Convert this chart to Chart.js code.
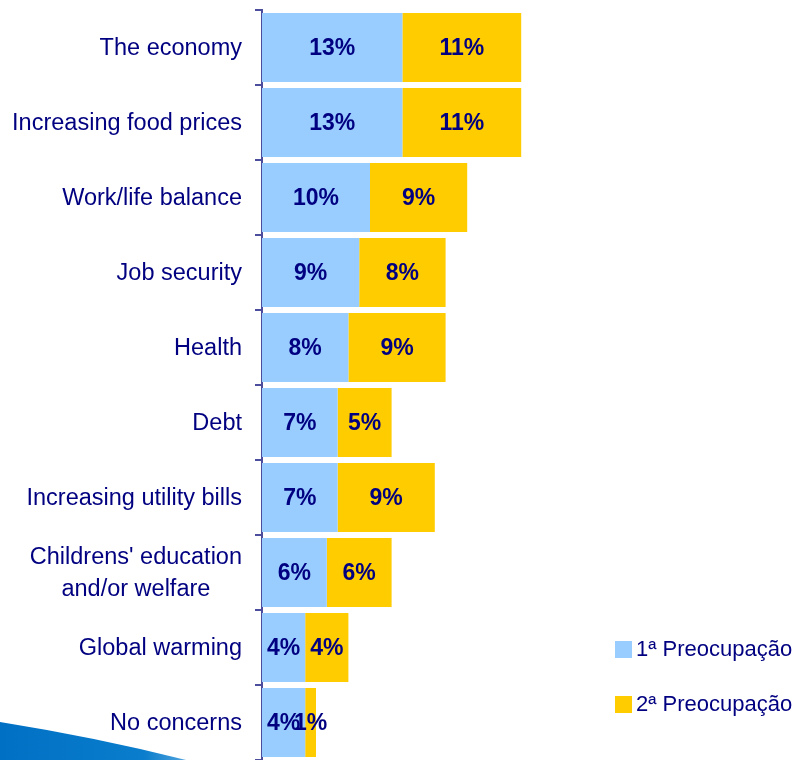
<!DOCTYPE html>
<html>
<head>
<meta charset="utf-8">
<script src="https://cdn.jsdelivr.net/npm/chart.js@4.4.0/dist/chart.umd.min.js"></script>
<style>
  body { margin: 0; overflow: hidden; background: #fff; }
  #wrap { position: relative; width: 805px; height: 760px; }
  #legend { position: absolute; left: 615px; top: 635px; font: 22px "Liberation Sans", Arial, sans-serif; color: #000080; }
  .item { display: flex; align-items: center; height: 28px; margin-bottom: 27px; }
  .box { width: 17px; height: 17px; margin-right: 4px; }
</style>
</head>
<body>
<div id="wrap">
  <canvas id="concerns-chart"></canvas>
  <div id="legend"></div>
</div>
<script>
const categories = [
  'The economy',
  'Increasing food prices',
  'Work/life balance',
  'Job security',
  'Health',
  'Debt',
  'Increasing utility bills',
  ["Childrens' education", 'and/or welfare'],
  'Global warming',
  'No concerns',
];
const seriesNames = ['1ª Preocupação', '2ª Preocupação'];
const firstConcern = [13, 13, 10, 9, 8, 7, 7, 6, 4, 4];
const secondConcern = [11, 11, 9, 8, 9, 5, 9, 6, 4, 1];
const colors = ['#99CCFF', '#FFCC00'];

const navy = '#000080';
const labelFont = '23.5px "Liberation Sans", Arial, sans-serif';

// blue swoosh in the bottom left corner
const swooshPlugin = {
  id: 'swoosh',
  beforeDraw(chart) {
    const { ctx } = chart;
    ctx.save();
    const grad = ctx.createLinearGradient(0, 0, 192, 0);
    grad.addColorStop(0, '#0070c4');
    grad.addColorStop(0.75, '#0a7dcc');
    grad.addColorStop(1, '#5aa8e0');
    ctx.fillStyle = grad;
    ctx.beginPath();
    ctx.moveTo(0, 722);
    ctx.quadraticCurveTo(100, 738, 190, 761);
    ctx.lineTo(0, 761);
    ctx.closePath();
    ctx.fill();
    ctx.restore();
  },
};

// category labels, multi-line ones centred on themselves
const categoryLabelPlugin = {
  id: 'categoryLabels',
  afterDraw(chart) {
    const { ctx } = chart;
    const yScale = chart.scales.y;
    const right = yScale.right - 20;
    ctx.save();
    ctx.font = labelFont;
    ctx.fillStyle = navy;
    ctx.textBaseline = 'middle';
    categories.forEach((cat, i) => {
      const y = yScale.getPixelForValue(i) + 1;
      if (Array.isArray(cat)) {
        const w = Math.max(...cat.map((line) => ctx.measureText(line).width));
        const cx = right - w / 2;
        const lineHeight = 32;
        ctx.textAlign = 'center';
        cat.forEach((line, j) => {
          ctx.fillText(line, cx, y + (j - (cat.length - 1) / 2) * lineHeight);
        });
      } else {
        ctx.textAlign = 'right';
        ctx.fillText(cat, right, y);
      }
    });
    ctx.restore();
  },
};

// percentage in the middle of every segment
const valueLabelPlugin = {
  id: 'valueLabels',
  afterDatasetsDraw(chart) {
    const { ctx } = chart;
    ctx.save();
    ctx.font = 'bold 23px "Liberation Sans", Arial, sans-serif';
    ctx.fillStyle = navy;
    ctx.textAlign = 'center';
    ctx.textBaseline = 'middle';
    chart.data.datasets.forEach((ds, di) => {
      chart.getDatasetMeta(di).data.forEach((bar, i) => {
        ctx.fillText(`${ds.data[i]}%`, (bar.x + bar.base) / 2, bar.y + 1);
      });
    });
    ctx.restore();
  },
};

const ctx = document.getElementById('concerns-chart').getContext('2d');
const chart = new Chart(ctx, {
  type: 'bar',
  data: {
    labels: categories,
    datasets: [
      { label: seriesNames[0], data: firstConcern, backgroundColor: colors[0] },
      { label: seriesNames[1], data: secondConcern, backgroundColor: colors[1] },
    ],
  },
  options: {
    indexAxis: 'y',
    responsive: true,
    maintainAspectRatio: false,
    animation: false,
    layout: { padding: { top: 10, right: 3, bottom: 0, left: 0 } },
    datasets: {
      bar: { categoryPercentage: 0.92, barPercentage: 1, borderWidth: 0 },
    },
    scales: {
      x: {
        stacked: true,
        min: 0,
        max: 50,
        display: false,
      },
      y: {
        stacked: true,
        z: 1,
        border: { display: true, color: '#4d4d9e', width: 2 },
        grid: {
          drawOnChartArea: false,
          drawTicks: true,
          tickLength: 7,
          color: '#4d4d9e',
          lineWidth: 2,
          offset: true,
        },
        ticks: { display: false },
        afterFit: (scale) => {
          scale.width = 262;
        },
      },
    },
    plugins: {
      legend: { display: false },
      tooltip: { enabled: false },
    },
  },
  plugins: [swooshPlugin, categoryLabelPlugin, valueLabelPlugin],
});

// html legend
const legend = document.getElementById('legend');
chart.data.datasets.forEach((ds) => {
  const item = document.createElement('div');
  item.className = 'item';
  const box = document.createElement('span');
  box.className = 'box';
  box.style.background = ds.backgroundColor;
  const text = document.createElement('span');
  text.textContent = ds.label;
  item.appendChild(box);
  item.appendChild(text);
  legend.appendChild(item);
});
</script>
</body>
</html>
